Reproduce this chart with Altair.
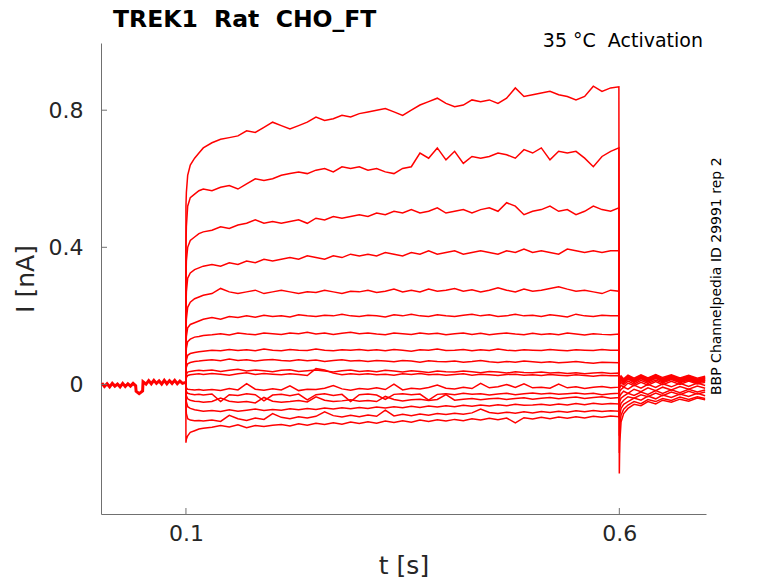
import altair as alt
import pandas as pd

# holding segment before the step (shared by all sweeps)
T_BASE = [0.003, 0.006, 0.009, 0.012, 0.015, 0.018, 0.021, 0.024, 0.027, 0.030,
          0.033, 0.036, 0.039, 0.042, 0.0425, 0.046, 0.05, 0.0505, 0.054, 0.057,
          0.060, 0.063, 0.066, 0.069, 0.072, 0.075, 0.078, 0.081, 0.084, 0.087,
          0.090, 0.093, 0.096, 0.0999]
I_BASE = [0.004, -0.006, 0.002, -0.007, 0.003, -0.005, 0.001, -0.007, 0.003, -0.006,
          0.002, -0.005, 0.003, -0.004, -0.02, -0.027, -0.019, 0.008, 0.001, 0.011,
          0.002, 0.012, 0.003, 0.01, 0.001, 0.012, 0.002, 0.011, 0.003, 0.012,
          0.002, 0.01, 0.003, 0.006]

T_STEP = [0.0999, 0.1, 0.1005, 0.102, 0.105, 0.11, 0.115, 0.12,
          0.13, 0.14, 0.15, 0.16, 0.17, 0.18, 0.19, 0.20,
          0.21, 0.22, 0.23, 0.24, 0.25, 0.26, 0.27, 0.28, 0.29, 0.30,
          0.31, 0.32, 0.33, 0.34, 0.35, 0.36, 0.37, 0.38, 0.39, 0.40,
          0.41, 0.42, 0.43, 0.44, 0.45, 0.46, 0.47, 0.48, 0.49, 0.50,
          0.51, 0.52, 0.53, 0.54, 0.55, 0.56, 0.57, 0.58, 0.59,
          0.5995]
T_TAIL = [0.6, 0.6005, 0.602, 0.605, 0.61, 0.617, 0.625, 0.633, 0.642, 0.65,
          0.66, 0.67, 0.68, 0.69, 0.699]

STEP_01 = [0.003, 0.52, 0.56, 0.61, 0.64, 0.66, 0.675, 0.69,
           0.705, 0.715, 0.72, 0.725, 0.74, 0.735, 0.75, 0.765,
           0.755, 0.745, 0.755, 0.765, 0.78, 0.77, 0.775, 0.785, 0.78, 0.79,
           0.795, 0.80, 0.805, 0.795, 0.785, 0.80, 0.815, 0.825, 0.835, 0.82,
           0.81, 0.815, 0.83, 0.825, 0.83, 0.82, 0.835, 0.865, 0.84, 0.845,
           0.85, 0.855, 0.845, 0.84, 0.83, 0.84, 0.87, 0.855, 0.865,
           0.868]
STEP_02 = [0.002, 0.40, 0.46, 0.52, 0.545, 0.555, 0.565, 0.57,
           0.565, 0.575, 0.58, 0.57, 0.585, 0.60, 0.595, 0.60,
           0.61, 0.615, 0.62, 0.615, 0.625, 0.63, 0.62, 0.635, 0.63, 0.635,
           0.625, 0.63, 0.62, 0.615, 0.63, 0.635, 0.675, 0.66, 0.69, 0.655,
           0.68, 0.645, 0.665, 0.66, 0.665, 0.675, 0.67, 0.66, 0.685, 0.675,
           0.69, 0.655, 0.68, 0.675, 0.68, 0.66, 0.635, 0.665, 0.68,
           0.69]
STEP_03 = [0.001, 0.30, 0.36, 0.40, 0.42, 0.43, 0.44, 0.445,
           0.45, 0.46, 0.455, 0.465, 0.47, 0.48, 0.47, 0.475,
           0.47, 0.475, 0.48, 0.47, 0.485, 0.48, 0.49, 0.485, 0.49, 0.495,
           0.49, 0.50, 0.495, 0.505, 0.50, 0.51, 0.50, 0.505, 0.515, 0.50,
           0.505, 0.51, 0.50, 0.51, 0.515, 0.505, 0.53, 0.52, 0.495, 0.505,
           0.51, 0.52, 0.505, 0.51, 0.495, 0.505, 0.52, 0.51, 0.505,
           0.515]
STEP_04 = [0.0, 0.22, 0.27, 0.31, 0.325, 0.335, 0.34, 0.345,
           0.35, 0.345, 0.355, 0.35, 0.36, 0.355, 0.365, 0.36,
           0.365, 0.37, 0.365, 0.375, 0.37, 0.365, 0.375, 0.37, 0.38, 0.375,
           0.38, 0.375, 0.385, 0.38, 0.375, 0.385, 0.38, 0.39, 0.38, 0.385,
           0.39, 0.38, 0.385, 0.39, 0.385, 0.38, 0.39, 0.385, 0.395, 0.385,
           0.39, 0.385, 0.38, 0.395, 0.39, 0.385, 0.39, 0.385, 0.39,
           0.39]
STEP_05 = [0.0, 0.15, 0.19, 0.225, 0.24, 0.25, 0.255, 0.26,
           0.265, 0.28, 0.27, 0.265, 0.27, 0.275, 0.265, 0.27,
           0.275, 0.27, 0.265, 0.27, 0.268, 0.275, 0.27, 0.265, 0.272, 0.27,
           0.275, 0.268, 0.272, 0.278, 0.27, 0.275, 0.27, 0.278, 0.272, 0.275,
           0.28, 0.272, 0.276, 0.27, 0.275, 0.282, 0.275, 0.27, 0.278, 0.272,
           0.275, 0.28, 0.285, 0.278, 0.272, 0.275, 0.27, 0.265, 0.275,
           0.272]
STEP_06 = [0.0, 0.11, 0.14, 0.165, 0.175, 0.18, 0.185, 0.19,
           0.195, 0.19, 0.198, 0.195, 0.2, 0.196, 0.202, 0.198,
           0.2, 0.197, 0.203, 0.2, 0.198, 0.202, 0.2, 0.205, 0.2, 0.198,
           0.202, 0.2, 0.197, 0.203, 0.2, 0.205, 0.2, 0.198, 0.203, 0.2,
           0.198, 0.202, 0.205, 0.2, 0.203, 0.198, 0.2, 0.205, 0.2, 0.202,
           0.198, 0.203, 0.2, 0.197, 0.205, 0.2, 0.198, 0.202, 0.2,
           0.2]
STEP_07 = [0.0, 0.08, 0.105, 0.125, 0.132, 0.138, 0.14, 0.143,
           0.145, 0.148, 0.144, 0.15, 0.147, 0.145, 0.15, 0.148,
           0.146, 0.15, 0.148, 0.152, 0.147, 0.15, 0.146, 0.149, 0.152, 0.148,
           0.15, 0.147, 0.145, 0.15, 0.148, 0.146, 0.15, 0.147, 0.149, 0.145,
           0.148, 0.15, 0.146, 0.149, 0.145, 0.148, 0.15, 0.147, 0.145, 0.149,
           0.146, 0.148, 0.145, 0.15, 0.147, 0.144, 0.148, 0.146, 0.145,
           0.147]
STEP_08 = [0.0, 0.05, 0.07, 0.085, 0.09, 0.093, 0.095, 0.097,
           0.1, 0.098, 0.102, 0.099, 0.101, 0.098, 0.103, 0.1,
           0.098, 0.102, 0.1, 0.099, 0.103, 0.1, 0.098, 0.101, 0.1, 0.102,
           0.099, 0.101, 0.098, 0.102, 0.1, 0.097, 0.101, 0.1, 0.103, 0.099,
           0.1, 0.102, 0.098, 0.101, 0.099, 0.103, 0.1, 0.098, 0.101, 0.1,
           0.099, 0.102, 0.1, 0.098, 0.101, 0.1, 0.099, 0.102, 0.1,
           0.1]
STEP_09 = [0.0, 0.035, 0.05, 0.06, 0.064, 0.067, 0.068, 0.07,
           0.072, 0.069, 0.074, 0.07, 0.072, 0.068, 0.071, 0.073,
           0.07, 0.068, 0.072, 0.069, 0.071, 0.067, 0.07, 0.072, 0.068, 0.07,
           0.067, 0.07, 0.068, 0.066, 0.07, 0.068, 0.065, 0.069, 0.067, 0.066,
           0.068, 0.065, 0.067, 0.07, 0.066, 0.064, 0.067, 0.065, 0.068, 0.066,
           0.064, 0.066, 0.063, 0.065, 0.067, 0.064, 0.062, 0.065, 0.064,
           0.063]
STEP_10 = [0.0, 0.02, 0.03, 0.036, 0.038, 0.04, 0.041, 0.04,
           0.042, 0.038, 0.041, 0.044, 0.039, 0.042, 0.04, 0.037,
           0.041, 0.043, 0.038, 0.04, 0.042, 0.039, 0.036, 0.04, 0.042, 0.038,
           0.04, 0.037, 0.041, 0.039, 0.036, 0.04, 0.038, 0.035, 0.039, 0.037,
           0.036, 0.039, 0.037, 0.034, 0.038, 0.036, 0.033, 0.037, 0.035, 0.034,
           0.036, 0.033, 0.035, 0.032, 0.034, 0.031, 0.033, 0.035, 0.032,
           0.033]
STEP_11 = [0.0, 0.012, 0.02, 0.026, 0.028, 0.03, 0.031, 0.029,
           0.032, 0.03, 0.027, 0.031, 0.034, 0.029, 0.032, 0.03,
           0.028, 0.031, 0.029, 0.026, 0.046, 0.042, 0.033, 0.028, 0.031, 0.029,
           0.031, 0.028, 0.03, 0.027, 0.031, 0.029, 0.032, 0.028, 0.03, 0.027,
           0.029, 0.031, 0.027, 0.03, 0.028, 0.026, 0.029, 0.03, 0.027, 0.028,
           0.026, 0.029, 0.027, 0.025, 0.028, 0.026, 0.024, 0.027, 0.025,
           0.026]
STEP_12 = [0.0, -0.005, -0.01, -0.014, -0.015, -0.016, -0.015, -0.017,
           -0.015, -0.018, -0.012, -0.016, 0.002, -0.014, -0.017, -0.013,
           -0.016, -0.004, -0.018, -0.014, -0.015, -0.011, -0.003, -0.013, -0.017, -0.012,
           -0.014, -0.01, -0.015, 0.001, -0.016, -0.011, -0.013, -0.009, -0.002, -0.011,
           -0.013, -0.008, -0.012, 0.003, -0.01, -0.007, 0.0, -0.009, 0.002, -0.01,
           -0.008, -0.011, 0.001, -0.01, -0.007, -0.012, -0.008, -0.006, -0.01,
           -0.008]
STEP_13 = [0.0, -0.012, -0.02, -0.026, -0.028, -0.03, -0.029, -0.031,
           -0.028, -0.05, -0.03, -0.032, -0.027, -0.03, -0.048, -0.031,
           -0.029, -0.033, -0.028, -0.045, -0.03, -0.027, -0.032, -0.029, -0.05, -0.03,
           -0.028, -0.031, -0.044, -0.029, -0.027, -0.03, -0.028, -0.046, -0.029, -0.027,
           -0.03, -0.026, -0.029, -0.027, -0.031, -0.028, -0.026, -0.03, -0.027, -0.025,
           -0.028, -0.026, -0.029, -0.027, -0.025, -0.028, -0.026, -0.03, -0.027,
           -0.026]
STEP_14 = [0.0, -0.02, -0.033, -0.042, -0.046, -0.049, -0.05, -0.052,
           -0.05, -0.04, -0.049, -0.052, -0.05, -0.054, -0.038, -0.049,
           -0.052, -0.05, -0.047, -0.051, -0.036, -0.046, -0.05, -0.048, -0.045, -0.049,
           -0.047, -0.05, -0.035, -0.044, -0.048, -0.045, -0.043, -0.047, -0.044, -0.03,
           -0.046, -0.043, -0.041, -0.045, -0.042, -0.04, -0.044, -0.041, -0.039, -0.043,
           -0.04, -0.038, -0.042, -0.039, -0.037, -0.041, -0.038, -0.036, -0.04,
           -0.038]
STEP_15 = [0.0, -0.03, -0.05, -0.065, -0.07, -0.074, -0.076, -0.078,
           -0.076, -0.079, -0.074, -0.078, -0.075, -0.072, -0.076, -0.073,
           -0.075, -0.071, -0.074, -0.07, -0.073, -0.069, -0.072, -0.068, -0.071, -0.067,
           -0.07, -0.066, -0.069, -0.065, -0.068, -0.064, -0.067, -0.063, -0.066, -0.062,
           -0.065, -0.061, -0.064, -0.06, -0.063, -0.059, -0.062, -0.058, -0.061, -0.06,
           -0.058, -0.061, -0.057, -0.06, -0.056, -0.059, -0.055, -0.058, -0.056,
           -0.057]
STEP_16 = [0.0, -0.06, -0.085, -0.1, -0.104, -0.106, -0.105, -0.107,
           -0.104, -0.108, -0.09, -0.1, -0.105, -0.098, -0.102, -0.085,
           -0.096, -0.1, -0.094, -0.098, -0.093, -0.08, -0.091, -0.095, -0.09, -0.094,
           -0.089, -0.093, -0.075, -0.092, -0.087, -0.091, -0.086, -0.09, -0.085, -0.088,
           -0.084, -0.087, -0.083, -0.072, -0.082, -0.085, -0.081, -0.084, -0.08, -0.083,
           -0.079, -0.082, -0.078, -0.081, -0.077, -0.08, -0.076, -0.079, -0.077,
           -0.078]
STEP_17 = [0.0, -0.17, -0.16, -0.15, -0.14, -0.135, -0.13, -0.128,
           -0.125, -0.12, -0.124, -0.118, -0.126, -0.12, -0.123, -0.119,
           -0.117, -0.121, -0.115, -0.119, -0.113, -0.117, -0.112, -0.116, -0.11, -0.114,
           -0.109, -0.113, -0.107, -0.111, -0.106, -0.11, -0.104, -0.108, -0.103, -0.107,
           -0.102, -0.106, -0.1, -0.104, -0.099, -0.103, -0.098, -0.112, -0.097, -0.101,
           -0.096, -0.1, -0.095, -0.099, -0.094, -0.098, -0.093, -0.096, -0.092,
           -0.094]

TAIL_01 = [-0.26, -0.17, -0.11, -0.085, -0.07, -0.058, -0.062, -0.05, -0.057, -0.046, -0.052, -0.043, -0.049, -0.04, -0.045]
TAIL_02 = [-0.2, -0.12, -0.09, -0.072, -0.06, -0.05, -0.056, -0.044, -0.05, -0.041, -0.047, -0.037, -0.044, -0.036, -0.041]
TAIL_03 = [-0.15, -0.09, -0.07, -0.058, -0.05, -0.04, -0.046, -0.034, -0.042, -0.031, -0.038, -0.028, -0.035, -0.026, -0.033]
TAIL_04 = [-0.1, -0.07, -0.055, -0.046, -0.036, -0.04, -0.03, -0.036, -0.025, -0.033, -0.022, -0.03, -0.02, -0.028, -0.022]
TAIL_05 = [-0.07, -0.05, -0.04, -0.034, -0.026, -0.032, -0.022, -0.029, -0.018, -0.026, -0.016, -0.024, -0.014, -0.022, -0.016]
TAIL_06 = [-0.05, -0.035, -0.028, -0.02, -0.026, -0.014, -0.021, -0.01, -0.018, -0.008, -0.016, -0.006, -0.014, -0.005, -0.011]
TAIL_07 = [-0.03, -0.02, -0.015, -0.008, -0.014, -0.002, -0.011, 0.0, -0.009, 0.002, -0.007, 0.003, -0.006, 0.004, -0.003]
TAIL_08 = [-0.02, -0.01, -0.002, -0.008, 0.004, -0.004, 0.006, -0.002, 0.008, -0.001, 0.009, 0.0, 0.01, 0.001, 0.006]
TAIL_09 = [-0.01, 0.0, 0.006, -0.001, 0.01, 0.001, 0.012, 0.003, 0.013, 0.004, 0.014, 0.005, 0.013, 0.004, 0.01]
TAIL_10 = [0.0, 0.005, 0.012, 0.004, 0.016, 0.006, 0.017, 0.007, 0.018, 0.008, 0.017, 0.007, 0.016, 0.006, 0.013]
TAIL_11 = [0.005, 0.01, 0.017, 0.008, 0.02, 0.01, 0.021, 0.011, 0.022, 0.012, 0.021, 0.011, 0.02, 0.01, 0.017]
TAIL_12 = [0.01, 0.015, 0.021, 0.013, 0.024, 0.014, 0.025, 0.015, 0.026, 0.016, 0.025, 0.015, 0.024, 0.014, 0.02]
TAIL_13 = [0.015, 0.02, 0.025, 0.016, 0.027, 0.018, 0.028, 0.019, 0.029, 0.02, 0.028, 0.019, 0.027, 0.018, 0.024]
TAIL_14 = [0.01, 0.016, 0.022, 0.013, 0.025, 0.015, 0.026, 0.016, 0.027, 0.017, 0.026, 0.016, 0.025, 0.015, 0.021]
TAIL_15 = [0.008, 0.014, 0.019, 0.01, 0.022, 0.012, 0.023, 0.013, 0.024, 0.014, 0.023, 0.013, 0.022, 0.012, 0.018]
TAIL_16 = [0.005, 0.012, 0.017, 0.007, 0.02, 0.009, 0.021, 0.01, 0.022, 0.011, 0.021, 0.01, 0.02, 0.009, 0.016]
TAIL_17 = [0.0, 0.008, 0.014, 0.004, 0.017, 0.006, 0.018, 0.007, 0.019, 0.008, 0.018, 0.007, 0.017, 0.006, 0.013]

STEPS = [STEP_01, STEP_02, STEP_03, STEP_04, STEP_05, STEP_06, STEP_07, STEP_08, STEP_09,
         STEP_10, STEP_11, STEP_12, STEP_13, STEP_14, STEP_15, STEP_16, STEP_17]
TAILS = [TAIL_01, TAIL_02, TAIL_03, TAIL_04, TAIL_05, TAIL_06, TAIL_07, TAIL_08, TAIL_09,
         TAIL_10, TAIL_11, TAIL_12, TAIL_13, TAIL_14, TAIL_15, TAIL_16, TAIL_17]

X_TICKS = [0.1, 0.6]
Y_TICKS = [0, 0.4, 0.8]

TITLE = "TREK1 \u00a0Rat \u00a0CHO_FT"
NOTE = "35 °C \u00a0Activation"
SIDE = "BBP Channelpedia ID 29991 rep 2"

FONT = "DejaVu Sans"
RED = "#ff0000"
AXIS_GREY = "#707070"
TEXT = "#262626"
W, H = 605, 471

rows = []
for k, (step, tail) in enumerate(zip(STEPS, TAILS)):
    assert len(step) == len(T_STEP) and len(tail) == len(T_TAIL)
    for t, v in zip(T_STEP + T_TAIL, step + tail):
        rows.append({"sweep": k, "t": t, "i": v})
sweeps = pd.DataFrame(rows)
baseline = pd.DataFrame({"t": T_BASE, "i": I_BASE})

x_axis = alt.Axis(values=X_TICKS, format="~g", tickSize=0, labelPadding=9,
                  grid=False, domainColor=AXIS_GREY, labelFont=FONT, labelFontSize=22,
                  labelColor=TEXT, title="t [s]", titleFont=FONT, titleFontSize=25,
                  titleFontWeight="normal", titleColor=TEXT, titlePadding=9)
y_axis = alt.Axis(values=Y_TICKS, format="~g", tickSize=0, labelPadding=18,
                  grid=False, domainColor=AXIS_GREY, labelFont=FONT, labelFontSize=22,
                  labelColor=TEXT, title="I [nA]", titleFont=FONT, titleFontSize=25,
                  titleFontWeight="normal", titleColor=TEXT, titlePadding=10)
x_enc = alt.X("t:Q", scale=alt.Scale(domain=[0.002, 0.7], nice=False, zero=False), axis=x_axis)
y_enc = alt.Y("i:Q", scale=alt.Scale(domain=[-0.378, 0.996], nice=False, zero=False), axis=y_axis)

base_line = alt.Chart(baseline).mark_line(color=RED, strokeWidth=3).encode(x=x_enc, y=y_enc)
traces = alt.Chart(sweeps).mark_line(color=RED, strokeWidth=1.5).encode(
    x=x_enc, y=y_enc, detail="sweep:N")

# MATLAB style inward ticks
x_ticks = alt.Chart(pd.DataFrame({"t": X_TICKS})).mark_rule(color=AXIS_GREY).encode(
    x=x_enc, y=alt.value(H), y2=alt.value(H - 6))
y_ticks = alt.Chart(pd.DataFrame({"i": Y_TICKS})).mark_rule(color=AXIS_GREY).encode(
    y=y_enc, x=alt.value(0), x2=alt.value(6))

one = pd.DataFrame({"a": [0]})
title = alt.Chart(one).mark_text(font=FONT, fontSize=23.5, fontWeight="bold", color="black",
                                 align="left", baseline="alphabetic").encode(
    x=alt.value(12), y=alt.value(-16), text=alt.value(TITLE))
note = alt.Chart(one).mark_text(font=FONT, fontSize=19, color="black",
                                align="right", baseline="alphabetic").encode(
    x=alt.value(602), y=alt.value(4), text=alt.value(NOTE))
side = alt.Chart(one).mark_text(font=FONT, fontSize=14, color="black", angle=270,
                                align="left", baseline="middle").encode(
    x=alt.value(616), y=alt.value(352), text=alt.value(SIDE))

chart = alt.layer(base_line, traces, x_ticks, y_ticks, title, note, side).properties(
    width=W, height=H,
    padding={"left": 93, "top": 35, "right": 60, "bottom": 66},
    autosize=alt.AutoSizeParams(type="none"),
    background="white",
).configure_view(strokeWidth=0)

chart.save("out.html", embed_options={"renderer": "svg", "actions": False})
